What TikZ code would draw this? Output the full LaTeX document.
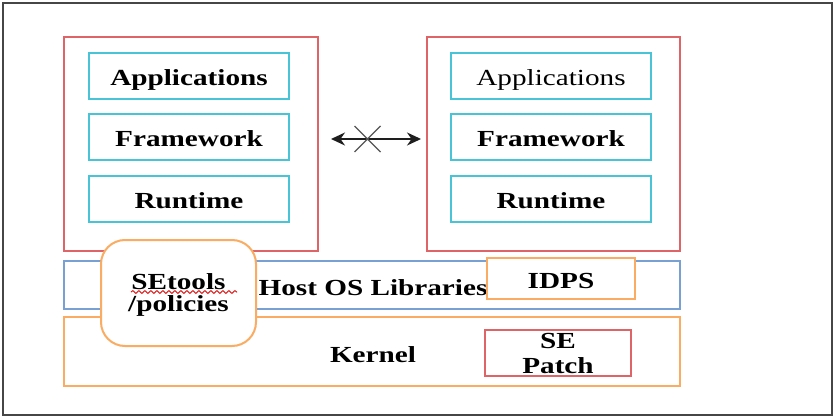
\documentclass[tikz,border=0pt]{standalone}
\usepackage{fontspec}
\setmainfont[FakeStretch=1.27]{Liberation Serif}
\usetikzlibrary{arrows.meta,decorations.pathmorphing}

\definecolor{boxred}{RGB}{222,100,104}
\definecolor{boxcyan}{RGB}{72,196,214}
\definecolor{boxblue}{RGB}{120,160,210}
\definecolor{boxorange}{RGB}{250,172,98}
\definecolor{framegray}{RGB}{70,70,70}
\definecolor{arrowgray}{RGB}{30,30,30}
\definecolor{spellred}{RGB}{225,30,30}

\tikzset{
  lbl/.style={font=\fontsize{23}{22}\selectfont\bfseries, text=black, align=center},
  oneline/.style={text height=19pt, text depth=0pt},
  panel/.style={draw=#1, line width=2pt, fill=white, inner sep=0pt, outer sep=0pt},
  vmbox/.style={panel=boxred},
  layerbox/.style={panel=boxcyan, lbl, oneline, minimum width=200, minimum height=46},
}

\begin{document}
\begin{tikzpicture}[x=1pt, y=-1pt]
  \useasboundingbox (0,0) rectangle (834,417);
  \fill[white] (0,0) rectangle (834,417);
  % outer frame
  \draw[framegray, line width=2.6pt] (3,3) rectangle (832,415);

  % two software stacks
  \node[vmbox, minimum width=254, minimum height=214] (vmL) at (191,144) {};
  \node[vmbox, minimum width=253, minimum height=214] (vmR) at (553.5,144) {};

  \node[layerbox] (appL) at (189,76) {Applications};
  \node[layerbox] (fwL)  at (189,137) {Framework};
  \node[layerbox] (rtL)  at (189,198.5) {Runtime};

  \node[layerbox, font=\fontsize{23}{22}\selectfont\mdseries] (appR) at (551,76) {Applications};
  \node[layerbox] (fwR)  at (551,137) {Framework};
  \node[layerbox] (rtR)  at (551,198.5) {Runtime};

  % blocked communication between the stacks
  \draw[arrowgray, line width=1.8pt, {Stealth[length=14pt,width=13pt]}-{Stealth[length=14pt,width=13pt]}]
    ([shift={(13,-5)}]vmL.east) -- ([shift={(-6,-5)}]vmR.west);
  \coordinate (blk) at (367.5,139);
  \draw[arrowgray!75, line width=1.4pt] ([shift={(-13,-13)}]blk) -- ([shift={(13,13)}]blk)
                                     ([shift={(-13,13)}]blk) -- ([shift={(13,-13)}]blk);

  % host layers
  \node[panel=boxblue, minimum width=616, minimum height=48] (host) at (372,285) {};
  \node[panel=boxorange, minimum width=616, minimum height=69] (kern) at (372,351.5) {};
  \node[lbl, anchor=base] (hostlbl) at (373,295) {Host OS Libraries};
  \node[lbl, anchor=base] (kernlbl) at (373,362) {Kernel};

  \node[panel=boxorange, lbl, oneline, minimum width=148, minimum height=41] (idps) at (561,278.5) {IDPS};
  \node[panel=boxred, lbl, font=\fontsize{23}{25}\selectfont\bfseries, minimum width=146, minimum height=46] (sep) at (558,353) {SE\\Patch};

  \node[panel=boxorange, rounded corners=24pt, lbl, text depth=0pt, minimum width=155, minimum height=106] (setools) at (178.5,293) {SEtools\\/policies};
  \draw[spellred, line width=1pt, decorate, decoration={snake, amplitude=1.4pt, segment length=6pt}]
    ([shift={(-47.5,-1)}]setools.center) -- ([shift={(58.5,-1)}]setools.center);
\end{tikzpicture}
\end{document}
